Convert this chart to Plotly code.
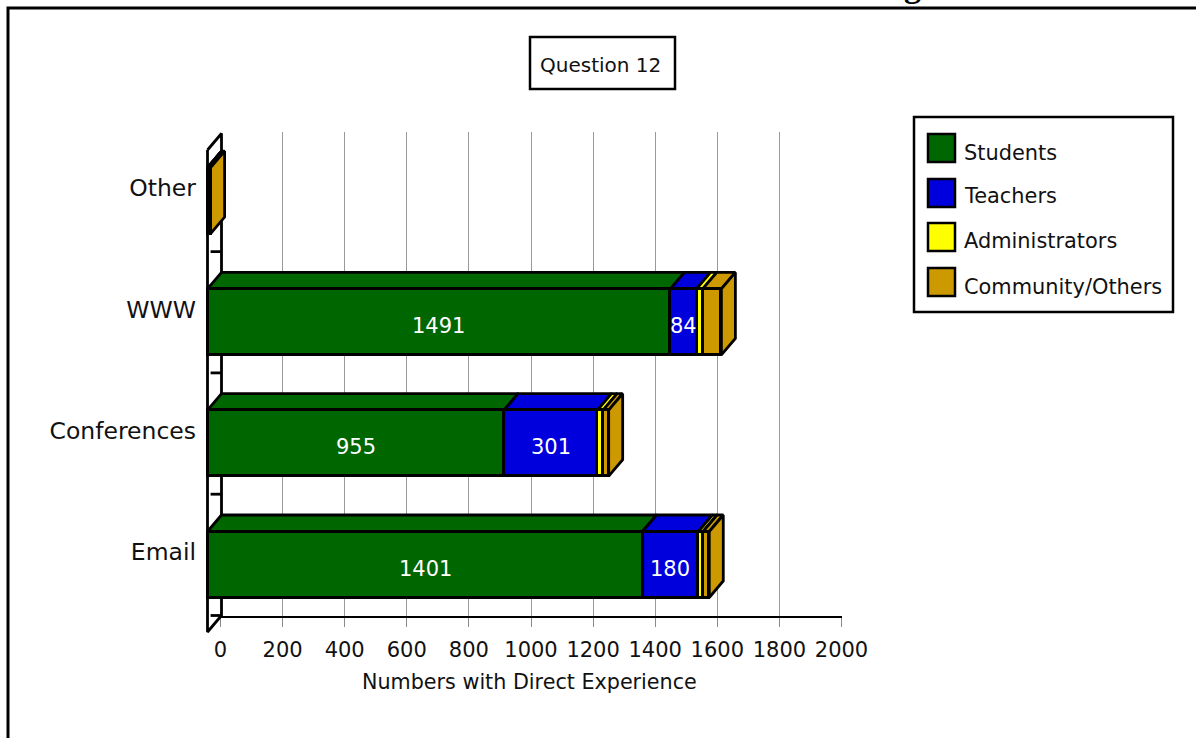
import plotly.graph_objects as go

# Survey counts per channel, stacked by respondent group
categories = ["Email", "Conferences", "WWW", "Other"]
students = [1401, 955, 1491, 0]
teachers = [180, 301, 84, 0]
administrators = [15, 18, 20, 0]
community = [20, 18, 60, 10]
series_names = ["Students", "Teachers", "Administrators", "Community/Others"]
series_colors = ["#006600", "#0000DD", "#FFFF00", "#CC9900"]
x_ticks = [0, 200, 400, 600, 800, 1000, 1200, 1400, 1600, 1800, 2000]
labelled_series = [students, teachers]

W, H = 1196, 738
FONT = "DejaVu Sans"
TEXT = "#111111"
EDGE = 2.8


def fx(px):
    return px / W


def fy(py):
    return 1 - py / H


# Pixel scale of the value axis and of one category band
UNIT = 621 / 2000
BAND = 121.3
FRONT_ZERO = 207.5
EMAIL_CENTRE = 564.5
# Extrusion of the pseudo-3D bars and walls, in data units
DEPTH_X = 14 / UNIT
DEPTH_Y = 16.5 / BAND
BAR_WIDTH = 66 / BAND
FLOOR = (EMAIL_CENTRE - 632) / BAND
CEILING = (EMAIL_CENTRE - 150) / BAND
LABEL_LIFT = 12.5 / BAND

positions = list(range(len(categories)))
series_values = [students, teachers, administrators, community]

fig = go.Figure()

# Back plane: carries the gridlines and the value axis
fig.add_trace(go.Scatter(x=[0, 2000], y=[0, 1], mode="none", xaxis="x", yaxis="y",
                         showlegend=False, hoverinfo="skip"))


def outline(xs, ys, fill=None, width=EDGE):
    fig.add_trace(go.Scatter(
        x=xs, y=ys, mode="lines", xaxis="x2", yaxis="y2",
        line=dict(color="black", width=width, shape="linear"),
        fill="toself" if fill else None, fillcolor=fill,
        showlegend=False, hoverinfo="skip"))


# Left wall of the chart box with its category dividers
outline([0, DEPTH_X, DEPTH_X, 0, 0],
        [CEILING, CEILING + DEPTH_Y, FLOOR + DEPTH_Y, FLOOR, CEILING], fill="white")
for k in range(len(categories)):
    level = FLOOR + DEPTH_Y + k
    outline([DEPTH_X * 0.22, DEPTH_X], [level, level])

# Top faces of every segment and the side face of each finished stack
for pos in positions:
    left = 0
    top = pos + BAR_WIDTH / 2
    bottom = pos - BAR_WIDTH / 2
    for values, color in zip(series_values, series_colors):
        right = left + values[pos]
        outline([left, right, right + DEPTH_X, left + DEPTH_X, left],
                [top, top, top + DEPTH_Y, top + DEPTH_Y, top], fill=color)
        left = right
    outline([left, left + DEPTH_X, left + DEPTH_X, left, left],
            [top, top + DEPTH_Y, bottom + DEPTH_Y, bottom, top], fill=series_colors[-1])

# Front faces of the stacked bars
for name, values, color in zip(series_names, series_values, series_colors):
    fig.add_trace(go.Bar(
        x=values, y=positions, name=name, orientation="h", width=BAR_WIDTH,
        marker=dict(color=color, line=dict(color="black", width=EDGE)),
        xaxis="x3", yaxis="y3", showlegend=False))

annotations = []
shapes = []


def paper_text(px, py, text, size, anchor="left", color=TEXT, family=FONT, yanchor="middle"):
    annotations.append(dict(x=fx(px), y=fy(py), xref="paper", yref="paper", text=text,
                            showarrow=False, xanchor=anchor, yanchor=yanchor,
                            font=dict(family=family, size=size, color=color)))


# Value labels inside the two largest segments
offsets = [0] * len(categories)
for values in labelled_series:
    for pos, v in enumerate(values):
        if v:
            annotations.append(dict(
                x=offsets[pos] + v / 2, y=pos, xref="x3", yref="y3", text=str(v),
                showarrow=False, yshift=-4, xanchor="center", yanchor="middle",
                font=dict(family=FONT, size=21, color="white")))
        offsets[pos] += v

# Outer frame, running off the page at the right and bottom
shapes.append(dict(type="rect", xref="paper", yref="paper", layer="below",
                   x0=fx(8), x1=fx(W + 10), y0=fy(8), y1=fy(H + 10),
                   line=dict(color="black", width=3), fillcolor="white"))

# Title, cut by the top of the page
paper_text(912, 6, "<b>g</b>", 34, anchor="center", color="black",
           family="Liberation Serif", yanchor="bottom")

# Chart caption box
shapes.append(dict(type="rect", xref="paper", yref="paper",
                   x0=fx(530), x1=fx(675), y0=fy(37), y1=fy(89),
                   line=dict(color="black", width=2.5), fillcolor="white"))
paper_text(600.5, 65, "Question 12", 20, anchor="center")

# Key
shapes.append(dict(type="rect", xref="paper", yref="paper",
                   x0=fx(914), x1=fx(1173), y0=fy(117), y1=fy(312),
                   line=dict(color="black", width=2.5), fillcolor="white"))
swatch_tops = [134, 179, 223, 268]
label_middles = [153, 196, 241, 287]
for name, color, top_px, mid_px in zip(series_names, series_colors, swatch_tops, label_middles):
    shapes.append(dict(type="rect", xref="paper", yref="paper",
                       x0=fx(928), x1=fx(955), y0=fy(top_px), y1=fy(top_px + 28),
                       line=dict(color="black", width=2.5), fillcolor=color))
    paper_text(962, mid_px, name, 20.9)

# Axis caption
paper_text(529, 682, "Numbers with Direct Experience", 20.7, anchor="center")

front_x_range = [(200 - FRONT_ZERO) / UNIT, 2000]
front_y_range = [(EMAIL_CENTRE - 640) / BAND, (EMAIL_CENTRE - 125) / BAND]
front_x_domain = [fx(200), fx(FRONT_ZERO + 621)]
front_y_domain = [fy(640), fy(125)]

fig.update_layout(
    width=W, height=H, margin=dict(l=0, r=0, t=0, b=0, pad=0),
    paper_bgcolor="white", plot_bgcolor="rgba(0,0,0,0)",
    barmode="stack", bargap=0, showlegend=False,
    font=dict(family=FONT, color=TEXT),
    shapes=shapes, annotations=annotations,
    xaxis=dict(domain=[fx(220.5), fx(841.5)], range=[0, 2000], anchor="y", automargin=False,
               tickvals=x_ticks, ticktext=[str(t) for t in x_ticks],
               tickfont=dict(family=FONT, size=21, color=TEXT),
               ticks="outside", ticklen=9, tickwidth=1, tickcolor="#8a8a8a",
               ticklabelstandoff=5,
               showline=True, linecolor="black", linewidth=2,
               showgrid=True, gridcolor="#9a9a9a", gridwidth=1, zeroline=False),
    yaxis=dict(domain=[fy(616), fy(132)], range=[0, 1], anchor="x", visible=False, automargin=False),
    xaxis2=dict(domain=front_x_domain, range=front_x_range, anchor="y2", visible=False, automargin=False),
    yaxis2=dict(domain=front_y_domain, range=front_y_range, anchor="x2", automargin=False,
                tickvals=[p + LABEL_LIFT for p in positions], ticktext=categories,
                tickfont=dict(family=FONT, size=23.5, color=TEXT), ticklabelstandoff=3,
                ticks="", showline=False, showgrid=False, zeroline=False),
    xaxis3=dict(overlaying="x2", range=front_x_range, anchor="y3", visible=False, automargin=False),
    yaxis3=dict(overlaying="y2", range=front_y_range, anchor="x3", visible=False, automargin=False),
)

fig.write_html("out.html")
